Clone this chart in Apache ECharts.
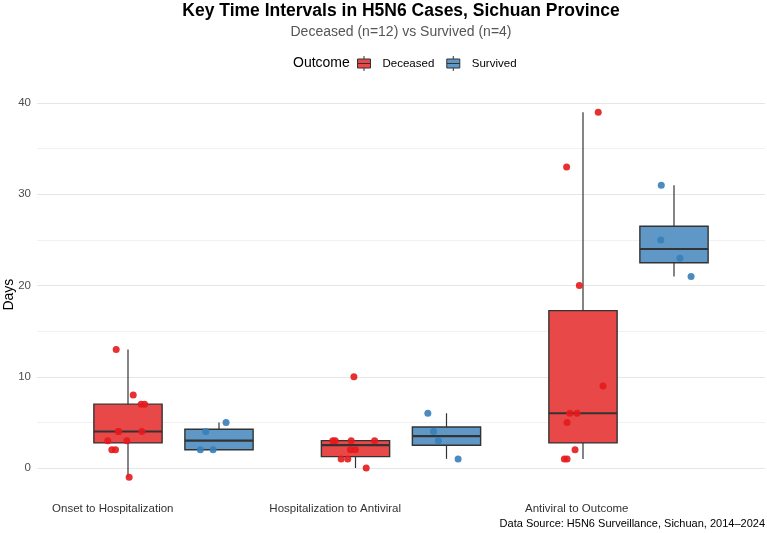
<!DOCTYPE html>
<html>
<head>
<meta charset="utf-8">
<title>H5N6 Time Intervals</title>
<script src="https://cdn.jsdelivr.net/npm/echarts@6/dist/echarts.min.js"></script>
<style>
    html, body { margin: 0; padding: 0; background: #fff; }
    #chart { width: 767px; height: 533px; }
</style>
</head>
<body>
<div id="chart"></div>
<script>
// 分类
var categories = ['Onset to Hospitalization', 'Hospitalization to Antiviral', 'Antiviral to Outcome'];
var yTicks = [0, 10, 20, 30, 40];

// 死亡组各区间天数
var deceasedOnset = [13, 8, 7, 7, 4, 4, 4, 3, 3, 2, 2, -1];
var deceasedHospAntiviral = [10, 3, 3, 3, 3, 2, 2, 1, 1, 0];
var deceasedAntiviralOutcome = [39, 33, 20, 9, 6, 6, 5, 2, 1, 1];
// 存活组各区间天数
var survivedOnset = [5, 4, 2, 2];
var survivedHospAntiviral = [6, 4, 3, 1];
var survivedAntiviralOutcome = [31, 25, 23, 21];

// 抖动偏移(分类单位), 与上面数组一一对应
var deceasedOnsetJitter = [-0.052, 0.023, 0.058, 0.073, -0.042, 0.061, -0.042, -0.089, -0.005, -0.071, -0.055, 0.005];
var deceasedHospAntiviralJitter = [-0.007, -0.1, -0.089, -0.019, 0.084, -0.022, -0.001, -0.063, -0.034, 0.047];
var deceasedAntiviralOutcomeJitter = [0.067, -0.072, -0.016, 0.088, -0.058, -0.026, -0.07, -0.035, -0.082, -0.07];
var survivedOnsetJitter = [0.031, -0.058, -0.082, -0.026];
var survivedHospAntiviralJitter = [-0.082, -0.057, -0.036, 0.051];
var survivedAntiviralOutcomeJitter = [-0.056, -0.058, 0.026, 0.075];

var deceasedGroups = [deceasedOnset, deceasedHospAntiviral, deceasedAntiviralOutcome];
var survivedGroups = [survivedOnset, survivedHospAntiviral, survivedAntiviralOutcome];
var deceasedJitter = [deceasedOnsetJitter, deceasedHospAntiviralJitter, deceasedAntiviralOutcomeJitter];
var survivedJitter = [survivedOnsetJitter, survivedHospAntiviralJitter, survivedAntiviralOutcomeJitter];

var RED = '#E41A1C', BLUE = '#377EB8';
var RED_FILL = '#E94849', BLUE_FILL = '#5F98C6';
var EDGE = '#333333';
var DODGE = 0.2;      // 组内左右偏移
var BOX_WIDTH = 0.3;  // 箱体宽度(分类单位)
var FONT = '"Liberation Sans", Arial, sans-serif';

/**
 * 分位数 (R type 7)
 */
function quantile(sorted, p) {
    var h = (sorted.length - 1) * p;
    var lo = Math.floor(h);
    var hi = Math.min(lo + 1, sorted.length - 1);
    return sorted[lo] + (h - lo) * (sorted[hi] - sorted[lo]);
}

/**
 * 箱线统计: [x, low, q1, median, q3, high], 须线取 1.5 IQR 内的极值
 */
function boxStats(values, x) {
    var s = values.slice().sort(function (a, b) { return a - b; });
    var q1 = quantile(s, 0.25), med = quantile(s, 0.5), q3 = quantile(s, 0.75);
    var iqr = q3 - q1;
    var low = q3, high = q1;
    for (var i = 0; i < s.length; i++) {
        if (s[i] >= q1 - 1.5 * iqr && s[i] < low) low = s[i];
        if (s[i] <= q3 + 1.5 * iqr && s[i] > high) high = s[i];
    }
    return [x, low, q1, med, q3, high];
}

function buildBoxData(groups, shift) {
    var out = [];
    for (var i = 0; i < groups.length; i++) {
        out.push(boxStats(groups[i], i + shift));
    }
    return out;
}

function buildPoints(groups, jitter, shift) {
    var out = [];
    for (var i = 0; i < groups.length; i++) {
        for (var j = 0; j < groups[i].length; j++) {
            out.push([i + shift + jitter[i][j], groups[i][j]]);
        }
    }
    return out;
}

/**
 * ggplot 风格箱线图(须线无端帽)
 */
function makeBoxRenderer(fill) {
    return function (params, api) {
        var x = api.value(0);
        var pLow = api.coord([x, api.value(1)]);
        var pQ1 = api.coord([x, api.value(2)]);
        var pMed = api.coord([x, api.value(3)]);
        var pQ3 = api.coord([x, api.value(4)]);
        var pHigh = api.coord([x, api.value(5)]);
        var half = api.size([BOX_WIDTH, 0])[0] / 2;
        var cx = pMed[0];
        return {
            type: 'group',
            children: [
                { type: 'line', shape: { x1: cx, y1: pHigh[1], x2: cx, y2: pQ3[1] },
                    style: { stroke: EDGE, lineWidth: 1.2 } },
                { type: 'line', shape: { x1: cx, y1: pQ1[1], x2: cx, y2: pLow[1] },
                    style: { stroke: EDGE, lineWidth: 1.2 } },
                { type: 'rect', shape: { x: cx - half, y: pQ3[1], width: half * 2, height: pQ1[1] - pQ3[1] },
                    style: { fill: fill, stroke: EDGE, lineWidth: 1.4 } },
                { type: 'line', shape: { x1: cx - half, y1: pMed[1], x2: cx + half, y2: pMed[1] },
                    style: { stroke: EDGE, lineWidth: 2.2 } }
            ]
        };
    };
}

var boxIcon = 'path://M0,3L13,3L13,12L0,12ZM6.5,0L6.5,3M6.5,12L6.5,15M0,7.5L13,7.5';

var chart = echarts.init(document.getElementById('chart'));
var option = {
    animation: false,
    backgroundColor: '#fff',
    textStyle: { fontFamily: FONT },
    graphic: [
        { type: 'text', x: 401, y: 11, style: { text: 'Key Time Intervals in H5N6 Cases, Sichuan Province', fill: '#000',
            fontSize: 17.5, fontWeight: 'bold', fontFamily: FONT, align: 'center', verticalAlign: 'middle' } },
        { type: 'text', x: 401, y: 32, style: { text: 'Deceased (n=12) vs Survived (n=4)', fill: '#555',
            fontSize: 14, fontFamily: FONT, align: 'center', verticalAlign: 'middle' } },
        { type: 'text', x: 293, y: 63, style: { text: 'Outcome', fill: '#000',
            fontSize: 14, fontFamily: FONT, align: 'left', verticalAlign: 'middle' } },
        { type: 'text', x: 765, y: 524, style: { text: 'Data Source: H5N6 Surveillance, Sichuan, 2014\u20132024', fill: '#000',
            fontSize: 11, fontFamily: FONT, align: 'right', verticalAlign: 'middle' } }
    ],
    legend: {
        left: 357,
        top: 55.5,
        padding: 0,
        itemWidth: 13,
        itemHeight: 15,
        itemGap: 12,
        textStyle: { fontSize: 11.5, color: '#000', padding: [0, 0, 0, 7] },
        data: [
            { name: 'Deceased', icon: boxIcon, itemStyle: { color: RED_FILL, borderColor: EDGE, borderWidth: 1 } },
            { name: 'Survived', icon: boxIcon, itemStyle: { color: BLUE_FILL, borderColor: EDGE, borderWidth: 1 } }
        ]
    },
    grid: [
        { left: 37, right: 2, top: 103, height: 365, outerBoundsMode: 'none' },
        { left: 37, right: 2, top: 93.875, height: 401.5, outerBoundsMode: 'none' },
        { left: 59.75, right: 24.75, top: 93.875, height: 401.5, outerBoundsMode: 'none' }
    ],
    xAxis: [
        { gridIndex: 0, type: 'value', min: 0, max: 1, show: false },
        { gridIndex: 1, type: 'value', min: -0.6, max: 2.6, show: false },
        {
            gridIndex: 2, type: 'category', data: categories,
            axisLine: { show: false }, axisTick: { show: false }, splitLine: { show: false },
            axisLabel: { interval: 0, align: 'right', margin: 7, fontSize: 11.5, color: '#333', fontFamily: FONT }
        }
    ],
    yAxis: [
        {
            gridIndex: 0, type: 'value', min: yTicks[0], max: yTicks[yTicks.length - 1], interval: 10,
            axisLine: { show: false }, axisTick: { show: false },
            axisLabel: { margin: 6, fontSize: 11.5, color: '#4D4D4D', fontFamily: FONT },
            splitLine: { show: true, lineStyle: { color: '#E6E6E6', width: 1 } },
            minorTick: { show: false, splitNumber: 2 },
            minorSplitLine: { show: true, lineStyle: { color: '#F1F1F1', width: 1 } }
        },
        {
            gridIndex: 1, type: 'value', min: -3, max: 41,
            axisLine: { show: false }, axisTick: { show: false }, axisLabel: { show: false }, splitLine: { show: false },
            name: 'Days', nameLocation: 'middle', nameGap: 21,
            nameTextStyle: { fontSize: 14, color: '#000', fontFamily: FONT }
        },
        { gridIndex: 2, type: 'value', min: -3, max: 41, show: false }
    ],
    series: [
        {
            name: 'Deceased', type: 'custom', xAxisIndex: 1, yAxisIndex: 1, z: 2,
            renderItem: makeBoxRenderer(RED_FILL),
            encode: { x: 0, y: [1, 2, 3, 4, 5] },
            itemStyle: { color: RED_FILL },
            data: buildBoxData(deceasedGroups, -DODGE)
        },
        {
            name: 'Survived', type: 'custom', xAxisIndex: 1, yAxisIndex: 1, z: 2,
            renderItem: makeBoxRenderer(BLUE_FILL),
            encode: { x: 0, y: [1, 2, 3, 4, 5] },
            itemStyle: { color: BLUE_FILL },
            data: buildBoxData(survivedGroups, DODGE)
        },
        {
            name: 'Deceased', type: 'scatter', xAxisIndex: 1, yAxisIndex: 1, z: 5,
            symbolSize: 7, itemStyle: { color: RED, opacity: 0.9 },
            data: buildPoints(deceasedGroups, deceasedJitter, -DODGE)
        },
        {
            name: 'Survived', type: 'scatter', xAxisIndex: 1, yAxisIndex: 1, z: 5,
            symbolSize: 7, itemStyle: { color: BLUE, opacity: 0.9 },
            data: buildPoints(survivedGroups, survivedJitter, DODGE)
        }
    ]
};
chart.setOption(option);
</script>
</body>
</html>
